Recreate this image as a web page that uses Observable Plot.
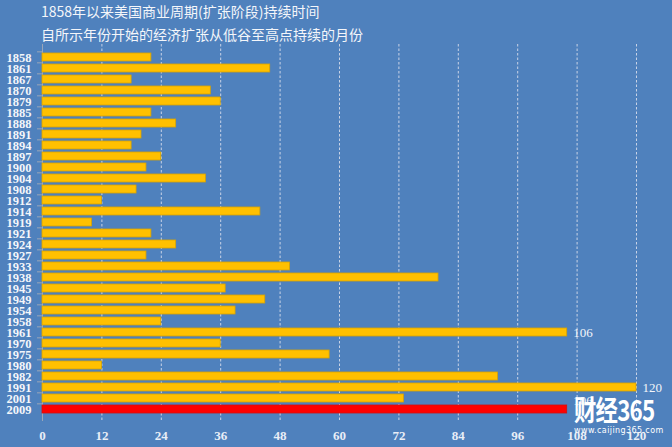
<!DOCTYPE html>
<html><head><meta charset="utf-8">
<script src="https://cdn.jsdelivr.net/npm/d3@7"></script>
<script src="https://cdn.jsdelivr.net/npm/@observablehq/plot@0.6"></script>
<style>
html,body{margin:0;padding:0}
body{background:#4f81bd;width:672px;height:447px;overflow:hidden;position:relative;font-family:"Noto Sans CJK SC","Noto Sans",sans-serif}
#head{height:40px;position:relative;color:#f4f6fa}
#t1{position:absolute;left:41px;top:2px;font-size:14px;line-height:18px;white-space:nowrap}
#t2{position:absolute;left:41px;top:25px;font-size:14px;line-height:18px;white-space:nowrap}
#chart svg{display:block}
#wm{position:absolute;left:574px;top:392px;color:#fff;z-index:5;pointer-events:none}
#wm1{font-family:"Noto Sans CJK SC",sans-serif;font-weight:bold;font-size:28px;line-height:34px;letter-spacing:-1px;white-space:nowrap;transform:scaleX(0.8);transform-origin:left center}
#wm2{font-family:"DejaVu Sans",sans-serif;font-size:8px;line-height:10px;letter-spacing:0.4px;white-space:nowrap}
</style></head>
<body>
<div id="head"><div id="t1">1858年以来美国商业周期(扩张阶段)持续时间</div><div id="t2">自所示年份开始的经济扩张从低谷至高点持续的月份</div></div>
<div id="chart"></div>
<div id="wm"><div id="wm1">财经365</div><div id="wm2">www.caijing365.com</div></div>
<script>
const years = ["1858","1861","1867","1870","1879","1885","1888","1891","1894","1897","1900","1904","1908","1912","1914","1919","1921","1924","1927","1933","1938","1945","1949","1954","1958","1961","1970","1975","1980","1982","1991","2001","2009"];
const months = [22,46,18,34,36,22,27,20,18,24,21,33,19,12,44,10,22,27,21,50,80,37,45,39,24,106,36,58,12,92,120,73,106];
const xTicks = [0,12,24,36,48,60,72,84,96,108,120];
const labeledYears = ["1961","1991"];
const currentYear = "2009";

const data = years.map((y,i)=>({year:y, months:months[i]}));
const H = 407, mt = 4, mb = 26, pad = 0.3;
const step = (H - mt - mb) / (years.length + pad);

const chart = Plot.plot({
  width: 672, height: H,
  marginTop: mt, marginBottom: mb, marginLeft: 42, marginRight: 36,
  style: {background: "transparent", color: "#f2f5fa", fontFamily: "'Liberation Serif', serif"},
  x: {domain: [0, 120], label: null},
  y: {domain: years, padding: pad, label: null},
  marks: [
    Plot.ruleX(xTicks.filter(t => t > 0), {stroke: "#c9d3e6", strokeDasharray: "2.5,2", strokeWidth: 1}),
    Plot.ruleX([0], {stroke: "#9aa6b8", strokeWidth: 1}),
    Plot.barX(data, {y: "year", x: "months",
      fill: d => d.year === currentYear ? "#ff0000" : "#ffc000",
      stroke: d => d.year === currentYear ? "#d01010" : "#d9a300", strokeWidth: 0.8}),
    Plot.text(data.filter(d => labeledYears.includes(d.year)), {x: "months", y: "year", text: d => String(d.months),
      dx: 6, textAnchor: "start", fill: "#f2f5fa", fontSize: 13}),
    Plot.text(data.filter(d => d.year === currentYear), {x: "months", y: "year", text: d => String(d.months),
      dx: 6, dy: -9, textAnchor: "start", fill: "#f2f5fa", fontSize: 13}),
    Plot.axisY({tickSize: 5, tickFormat: () => "", dy: -step/2, stroke: "#9aa6b8", label: null}),
    Plot.axisY({tickSize: 0, tickPadding: 11, fontSize: 12.5, fontWeight: "bold", fill: "#f4f6fa", label: null}),
    Plot.axisX({ticks: xTicks, tickSize: 0, tickPadding: 9, fontSize: 13, fontWeight: "bold", fill: "#e9eef7", label: null})
  ]
});
document.getElementById("chart").appendChild(chart);
</script>
</body></html>
